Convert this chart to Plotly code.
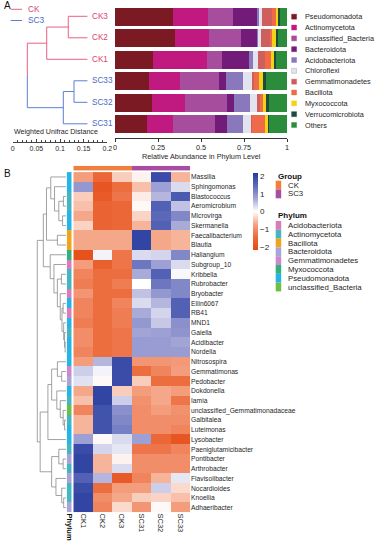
import plotly.graph_objects as go

W, H = 379, 550
def px(x): return x / W
def py(y): return 1 - y / H

FONT = "Liberation Sans, Arial, sans-serif"
TXT = "#262626"

# ---------------- Panel A data ----------------
samples = ["CK3", "CK2", "CK1", "SC33", "SC32", "SC31"]
sample_groups = ["CK", "CK", "CK", "SC3", "SC3", "SC3"]
group_line_colors = {"CK": "#EB5F82", "SC3": "#5B7FD2"}
group_text_colors = {"CK": "#E0426C", "SC3": "#4A6BC4"}

phyla_a = ["Pseudomonadota", "Actinomycetota", "unclassified_Bacteria", "Bacteroidota",
           "Acidobacteriota", "Chloroflexi", "Gemmatimonadetes", "Bacillota",
           "Myxococcota", "Verrucomicrobiota", "Others"]
phyla_a_colors = ["#7B1A22", "#C0197F", "#A64D9E", "#731B78", "#8A78BC", "#E3E3F0",
                  "#CF5F5C", "#EE6A48", "#F5D216", "#1D4B3E", "#2B8C3C"]

# relative abundance per phylum, order = samples
pseudomonadota     = [0.335, 0.349, 0.221, 0.198, 0.213, 0.188]
actinomycetota     = [0.203, 0.199, 0.312, 0.180, 0.194, 0.147]
unclassified_bact  = [0.149, 0.183, 0.091, 0.229, 0.242, 0.246]
bacteroidota       = [0.140, 0.095, 0.155, 0.039, 0.043, 0.068]
acidobacteriota    = [0.012, 0.005, 0.021, 0.101, 0.093, 0.097]
chloroflexi        = [0.017, 0.019, 0.033, 0.049, 0.043, 0.045]
gemmatimonadetes   = [0.058, 0.052, 0.039, 0.014, 0.015, 0.004]
bacillota          = [0.020, 0.012, 0.035, 0.025, 0.019, 0.078]
myxococcota        = [0.015, 0.023, 0.019, 0.027, 0.016, 0.019]
verrucomicrobiota  = [0.010, 0.012, 0.010, 0.014, 0.016, 0.006]
others             = [0.041, 0.051, 0.064, 0.126, 0.106, 0.103]
abundance = [pseudomonadota, actinomycetota, unclassified_bact, bacteroidota,
             acidobacteriota, chloroflexi, gemmatimonadetes, bacillota,
             myxococcota, verrucomicrobiota, others]

# sample dendrogram (positions on the Weighted Unifrac Distance axis)
leaf_dist = 0.158
merges_a = [(0, 1, 0.1175), (6, 2, 0.0719), (3, 4, 0.1296), (8, 5, 0.107), (7, 9, 0.0309)]
dist_ticks = [0, 0.05, 0.1, 0.15, 0.2]
dist_ticklabels = ["0", "0.05", "0.1", "0.15", "0.2"]
abund_ticks = [0, 0.25, 0.5, 0.75, 1]
abund_ticklabels = ["0", "0.25", "0.5", "0.75", "1"]

# ---------------- Panel B data ----------------
genera = ["Massilia", "Sphingomonas", "Blastococcus", "Aeromicrobium", "Microvirga",
          "Skermanella", "Faecalibacterium", "Blautia", "Haliangium", "Subgroup_10",
          "Kribbella", "Rubrobacter", "Bryobacter", "Ellin6067", "RB41", "MND1",
          "Gaiella", "Acidibacter", "Nordella", "Nitrosospira", "Gemmatimonas",
          "Pedobacter", "Dokdonella", "Iamia", "unclassified_Gemmatimonadaceae",
          "Galbitalea", "Luteimonas", "Lysobacter", "Paeniglutamicibacter",
          "Pontibacter", "Arthrobacter", "Flavisolibacter", "Nocardioides",
          "Knoellia", "Adhaeribacter"]
heat_cols = ["CK1", "CK2", "CK3", "SC31", "SC32", "SC33"]
ck1  = [-0.8, 0.9, -0.4, -0.5, -0.7, -0.35, -0.7, -0.7, -2.0, -0.8, -1.1, -1.2, -0.9, -1.1, -1.1, -1.2, -1.0, -1.0,
        -1.1, -0.8, 0.4, 0.25, -0.7, -0.5, -1.1, -0.6, -0.6, 0.8, 1.9, 2.0, 2.0, 1.6, 1.9, 2.0, 2.0]
ck2  = [-1.5, -1.9, -1.8, -1.6, -1.6, -1.6, -0.7, -0.7, 0.1, -1.7, -1.4, -1.4, -1.4, -1.4, -1.4, -1.4, -1.4, -1.4,
        -1.4, 0.6, 0.1, -0.05, 2.0, 2.0, 1.8, 1.8, 1.8, -0.05, 0.35, -0.6, -0.6, 0.6, -1.4, -1.0, -1.1]
ck3  = [-0.4, -1.4, -1.3, -1.5, -1.5, -1.5, -0.7, -0.7, -1.3, -1.3, -1.4, -1.2, -1.4, -1.1, -1.2, -1.2, -1.3, -1.3,
        -1.3, 1.9, 1.9, 1.9, -0.4, 0.4, 1.0, 1.1, 1.2, 0.3, 0.2, -0.1, 0.3, -1.8, -0.8, -0.7, -0.3]
sc31 = [-0.1, -0.5, -0.15, -0.05, -0.35, -0.6, 2.0, 2.0, 0.3, 1.3, 0.7, 0.0, 0.5, 0.3, 0.7, 0.9, 0.75, 0.85,
        0.85, -0.9, -1.4, -0.4, -0.8, -0.95, -1.0, -1.0, -1.0, 0.8, -1.3, -1.0, -1.0, -1.1, -0.8, -0.4, -0.9]
sc32 = [1.9, 0.8, 0.6, 1.6, 1.5, 1.6, -0.7, -0.7, 0.35, 0.8, 1.6, 1.3, 0.9, 0.6, 0.35, 0.45, 0.8, 0.85,
        0.85, -0.9, -1.1, -1.4, -0.7, -0.7, -0.8, -1.0, -1.0, -1.5, -1.3, -1.0, -1.0, -0.6, 0.4, -0.35, -0.05]
sc33 = [-0.6, 0.3, 1.7, 0.5, 1.1, 0.7, -0.6, -0.6, 1.1, 0.3, 0.05, 1.1, 1.1, 1.6, 1.6, 1.0, 0.95, 0.75,
        0.85, -0.85, -0.8, -1.4, -0.8, -1.3, -0.95, -1.0, -1.1, -1.9, -1.1, -1.0, -1.0, 0.2, -0.3, -0.5, -0.8]

phyla_b = ["Acidobacteriota", "Actinomycetota", "Bacillota", "Bacteroidota",
           "Gemmatimonadetes", "Myxococcota", "Pseudomonadota", "unclassified_Bacteria"]
phyla_b_colors = ["#DB7CBA", "#45B6BF", "#F0A31C", "#A9A3D6", "#CC88CC", "#33B07C", "#25B4E8", "#6CBE45"]
genus_phylum = ["Pseudomonadota", "Pseudomonadota", "Actinomycetota", "Actinomycetota", "Pseudomonadota",
                "Pseudomonadota", "Bacillota", "Bacillota", "Myxococcota", "Acidobacteriota",
                "Actinomycetota", "Actinomycetota", "Acidobacteriota", "Pseudomonadota", "Acidobacteriota",
                "Pseudomonadota", "Actinomycetota", "Pseudomonadota", "Pseudomonadota", "Pseudomonadota",
                "Gemmatimonadetes", "Bacteroidota", "Pseudomonadota", "Actinomycetota", "unclassified_Bacteria",
                "Actinomycetota", "Pseudomonadota", "Pseudomonadota", "Actinomycetota", "Bacteroidota",
                "Actinomycetota", "Bacteroidota", "Actinomycetota", "Actinomycetota", "Bacteroidota"]
groups_b = ["CK", "SC3"]
groups_b_colors = ["#F07F3F", "#A84EA2"]
col_group = [0, 0, 0, 1, 1, 1]

# genus dendrogram: (child, child, height); new nodes numbered from 35
merges_b = [(2, 3, 0.9), (4, 5, 1.2), (35, 36, 2.5), (1, 37, 4.0), (0, 38, 5.3),
            (6, 7, 3.0), (39, 40, 6.8),
            (17, 18, 0.3), (16, 42, 0.5), (15, 43, 0.8), (13, 14, 1.0), (45, 44, 1.4),
            (12, 46, 2.0), (10, 11, 1.6), (48, 47, 3.0), (9, 49, 4.2), (8, 50, 5.5),
            (41, 51, 7.9),
            (20, 21, 1.5), (19, 53, 3.0), (25, 26, 0.5), (24, 55, 1.0), (23, 56, 2.0),
            (22, 57, 3.2), (54, 58, 5.0), (59, 27, 6.3), (29, 30, 1.0), (28, 61, 2.5),
            (33, 34, 0.8), (32, 63, 1.5), (31, 64, 3.5), (62, 65, 5.0), (60, 66, 9.0),
            (52, 67, 10.0)]


def dendro(n_leaves, merges, leaf_h):
    pos = {i: (float(i), leaf_h) for i in range(n_leaves)}
    segs = []
    for k, (a, b, h) in enumerate(merges):
        ya, ha = pos[a]
        yb, hb = pos[b]
        segs.append((a, b, ha, hb, ya, yb, h))
        pos[n_leaves + k] = ((ya + yb) / 2, h)
    return segs, pos


fig = go.Figure()

# ---- Panel A dendrogram
segs_a, pos_a = dendro(6, merges_a, leaf_dist)
def members(node, n, merges):
    if node < n:
        return [node]
    a, b, _ = merges[node - n]
    return members(a, n, merges) + members(b, n, merges)

for k, (a, b, ha, hb, ya, yb, h) in enumerate(segs_a):
    ga = {sample_groups[m] for m in members(a, 6, merges_a)}
    gb = {sample_groups[m] for m in members(b, 6, merges_a)}
    if ga == gb:
        c = group_line_colors[ga.pop()]
        fig.add_trace(go.Scatter(x=[ha, h, h, hb], y=[ya, ya, yb, yb], mode="lines",
                                 line=dict(color=c, width=1), xaxis="x", yaxis="y",
                                 hoverinfo="skip", showlegend=False))
    else:
        mid = (ya + yb) / 2
        for hh, yy, g in ((ha, ya, ga), (hb, yb, gb)):
            c = group_line_colors[g.pop()]
            fig.add_trace(go.Scatter(x=[hh, h, h], y=[yy, yy, mid], mode="lines",
                                     line=dict(color=c, width=1), xaxis="x", yaxis="y",
                                     hoverinfo="skip", showlegend=False))

# ---- Panel A stacked bars
for name, col, vals in zip(phyla_a, phyla_a_colors, abundance):
    fig.add_trace(go.Bar(x=vals, y=list(range(6)), orientation="h", name=name,
                         marker=dict(color=col, line=dict(width=0)), width=0.82,
                         xaxis="x2", yaxis="y", showlegend=False))

# ---- Panel B dendrogram
segs_b, pos_b = dendro(35, merges_b, 0.0)
for (a, b, ha, hb, ya, yb, h) in segs_b:
    fig.add_trace(go.Scatter(x=[ha, h, h, hb], y=[ya, ya, yb, yb], mode="lines",
                             line=dict(color="#8A8A8A", width=0.8), xaxis="x3", yaxis="y3",
                             hoverinfo="skip", showlegend=False))

# ---- Phylum strip
nph = len(phyla_b)
cs_ph = []
for i, c in enumerate(phyla_b_colors):
    cs_ph += [[i / nph, c], [(i + 1) / nph, c]]
fig.add_trace(go.Heatmap(z=[[phyla_b.index(p)] for p in genus_phylum], x=[0], y=list(range(35)),
                         colorscale=cs_ph, zmin=-0.5, zmax=nph - 0.5, showscale=False,
                         xaxis="x4", yaxis="y3", hoverinfo="skip"))

# ---- Main heatmap
heat_scale = [[0, "#E44A14"], [0.17, "#EC6A3A"], [0.33, "#F4A283"], [0.5, "#FFFFFF"],
              [0.67, "#A3A5D6"], [0.83, "#5F6CBA"], [1, "#23399C"]]
zrows = [list(r) for r in zip(ck1, ck2, ck3, sc31, sc32, sc33)]
fig.add_trace(go.Heatmap(
    z=zrows, x=list(range(6)), y=list(range(35)),
    colorscale=heat_scale, zmin=-2.18, zmax=2.18, xaxis="x5", yaxis="y3",
    colorbar=dict(x=px(252.7), xanchor="left", y=py(211.6), yanchor="middle",
                  len=76.7 / H, lenmode="fraction", thickness=5, thicknessmode="pixels",
                  outlinewidth=0, tickvals=[-2, -1, 0, 1, 2],
                  ticktext=["\u22122", "\u22121", "0", "1", "2"], ticks="",
                  tickfont=dict(size=8, color=TXT, family=FONT), ypad=0, xpad=0)))

# ---- Group bar
fig.add_trace(go.Heatmap(z=[col_group], x=list(range(6)), y=[0],
                         colorscale=[[0, groups_b_colors[0]], [0.5, groups_b_colors[0]],
                                     [0.5, groups_b_colors[1]], [1, groups_b_colors[1]]],
                         zmin=0, zmax=1, showscale=False, xaxis="x6", yaxis="y6", hoverinfo="skip"))

tf7 = dict(size=7, color=TXT, family=FONT)
hidden = dict(visible=False, showgrid=False, zeroline=False)

fig.update_layout(
    width=W, height=H, margin=dict(l=0, r=0, t=0, b=0),
    paper_bgcolor="white", plot_bgcolor="rgba(0,0,0,0)",
    barmode="stack", bargap=0, font=dict(family=FONT, color=TXT),
    xaxis=dict(domain=[px(12.7), px(107.3)], range=[0, 0.2], anchor="free", position=py(141.7),
               tickvals=dist_ticks, ticktext=dist_ticklabels, ticks="inside", ticklen=3,
               tickwidth=0.7, tickcolor="#444", showline=True, linecolor="#444", linewidth=0.7,
               minor=dict(dtick=0.01, ticks="inside", ticklen=1.8, tickcolor="#444", tickwidth=0.6),
               showgrid=False, zeroline=False, tickfont=tf7, automargin=False),
    yaxis=dict(domain=[py(134.55), py(5.55)], range=[5.5, -0.5], **hidden),
    xaxis2=dict(domain=[px(115), px(287)], range=[0, 1], anchor="free", position=py(138.3),
                tickvals=abund_ticks, ticktext=abund_ticklabels, ticks="outside", ticklen=2.5,
                tickwidth=0.8, tickcolor="#333", showline=True, linecolor="#333", linewidth=0.8,
                showgrid=False, zeroline=False, tickfont=dict(size=7.3, color=TXT, family=FONT),
                automargin=False),
    xaxis3=dict(domain=[px(30), px(66)], range=[12.54, 0], anchor="y3", **hidden),
    yaxis3=dict(domain=[py(512.5), py(172.1)], range=[34.5, -0.5], anchor="x5", side="right",
                tickvals=list(range(35)), ticktext=genera, ticks="", showgrid=False,
                zeroline=False, showline=False, tickfont=dict(size=6.7, color=TXT, family=FONT),
                automargin=False),
    xaxis4=dict(domain=[px(66.7), px(71.7)], range=[-0.5, 0.5], anchor="y3",
                tickvals=[0], ticktext=["<b>Phylum</b>"], tickangle=90, ticks="",
                showgrid=False, zeroline=False, tickfont=dict(size=7.5, color="#111", family=FONT),
                automargin=False),
    xaxis5=dict(domain=[px(73.3), px(190)], range=[-0.5, 5.5], anchor="y3",
                tickvals=list(range(6)), ticktext=heat_cols, tickangle=90, ticks="",
                showgrid=False, zeroline=False, tickfont=dict(size=7.5, color=TXT, family=FONT),
                automargin=False),
    xaxis6=dict(domain=[px(73.3), px(190)], range=[-0.5, 5.5], anchor="y6", **hidden),
    yaxis6=dict(domain=[py(170.6), py(165.8)], range=[-0.5, 0.5], anchor="x6", **hidden),
)

ann = []
shapes = []
def text(x, y, s, size=7.5, color=TXT, anchor="left", bold=False, xref="paper", yref="paper"):
    ann.append(dict(x=x, y=y, xref=xref, yref=yref, text=("<b>%s</b>" % s) if bold else s,
                    showarrow=False, xanchor=anchor, yanchor="middle",
                    font=dict(size=size, color=color, family=FONT)))

# panel labels
text(px(1.5), py(6), "A", size=10, color="#111")
text(px(1.5), py(173.5), "B", size=10, color="#111")

# group line legend (panel A)
for g, yy in (("CK", 9.3), ("SC3", 20.5)):
    shapes.append(dict(type="line", xref="paper", yref="paper", x0=px(10.7), x1=px(22),
                       y0=py(yy), y1=py(yy), line=dict(color=group_line_colors[g], width=1)))
    text(px(25.5), py(yy), g, size=8.3, color=group_text_colors[g])

# leaf labels
for i, s in enumerate(samples):
    text(0.1635, pos_a[i][0], s, size=8.2, color=group_text_colors[sample_groups[i]],
         xref="x", yref="y")

# axis titles
text(px(12.2), py(132.3), "Weighted Unifrac Distance", size=7.1)
text(px(201), py(156.3), "Relative Abundance in Phylum Level", size=7.3, anchor="center")

# phylum legend (panel A)
for i, (name, col) in enumerate(zip(phyla_a, phyla_a_colors)):
    yc = 16.7 + i * 10.83
    shapes.append(dict(type="rect", xref="paper", yref="paper", x0=px(291.6), x1=px(296.6),
                       y0=py(yc + 2.5), y1=py(yc - 2.5), fillcolor=col,
                       line=dict(color="#9A9AA8" if name == "Chloroflexi" else col, width=0.4)))
    text(px(303.3), py(yc), name, size=7.3)

# group legend (panel B)
text(px(275.5), py(176.5), "Group", size=8, bold=True, color="#111")
for i, (g, col) in enumerate(zip(groups_b, groups_b_colors)):
    y0 = 180.7 + i * 8.8
    shapes.append(dict(type="rect", xref="paper", yref="paper", x0=px(275.7), x1=px(281.2),
                       y0=py(y0 + 8.8), y1=py(y0), fillcolor=col, line=dict(width=0)))
    text(px(285.5), py(y0 + 4.4), g, size=7.8)

text(px(275.5), py(215.8), "Phylum", size=8, bold=True, color="#111")
for i, (p, col) in enumerate(zip(phyla_b, phyla_b_colors)):
    y0 = 221.0 + i * 8.8
    shapes.append(dict(type="rect", xref="paper", yref="paper", x0=px(275.7), x1=px(281.2),
                       y0=py(y0 + 8.8), y1=py(y0), fillcolor=col, line=dict(width=0)))
    text(px(285.5), py(y0 + 4.4), p, size=7.8)

fig.update_layout(annotations=ann, shapes=shapes)
fig.write_html("out.html", config={"displayModeBar": False},
               post_script="document.body.style.margin='0';document.body.style.padding='0';")
